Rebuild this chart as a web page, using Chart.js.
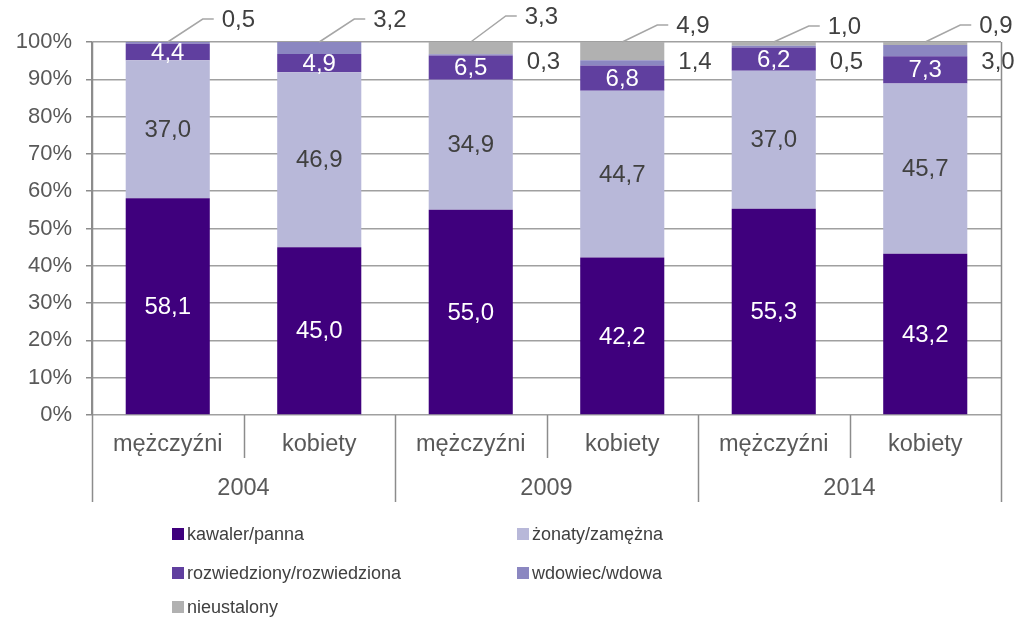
<!DOCTYPE html>
<html lang="pl">
<head>
<meta charset="utf-8">
<title>Stan cywilny</title>
<script src="https://cdn.jsdelivr.net/npm/chart.js@4/dist/chart.umd.min.js"></script>
<style>
  html, body { margin: 0; padding: 0; background: #fff; }
  #wrap { width: 1019px; height: 621px; }
</style>
</head>
<body>
<div id="wrap"><canvas id="stanChart" width="1019" height="621"></canvas></div>
<script>
// Stan cywilny wg płci, lata 2004, 2009, 2014 (%)
const years = ['2004', '2009', '2014'];
const categories = ['mężczyźni', 'kobiety', 'mężczyźni', 'kobiety', 'mężczyźni', 'kobiety'];
const seriesNames = ['kawaler/panna', 'żonaty/zamężna', 'rozwiedziony/rozwiedziona', 'wdowiec/wdowa', 'nieustalony'];

const kawalerPanna = [58.1, 45.0, 55.0, 42.2, 55.3, 43.2];
const zonatyZamezna = [37.0, 46.9, 34.9, 44.7, 37.0, 45.7];
const rozwiedzeni = [4.4, 4.9, 6.5, 6.8, 6.2, 7.3];
const wdowcy = [0.5, 3.2, 0.3, 1.4, 0.5, 3.0];
const nieustalony = [0, 0, 3.3, 4.9, 1.0, 0.9];

const colors = ['#3f007d', '#b8b8d9', '#603f9f', '#8b87c1', '#b1b1b1'];
const FONT = '"Liberation Sans", Arial, sans-serif';
const TEXT = '#595959';
const DARK = '#404040';
const LINE = '#8c8c8c';

const fmt = v => v.toFixed(1).replace('.', ',');

// Labels on the segments: inside, beside the bar, or on a leader line above it
const valueLabels = {
  id: 'valueLabels',
  afterDatasetsDraw(chart, args, opts) {
    const { ctx, chartArea: a, scales: { y } } = chart;
    ctx.save();
    ctx.font = '24px ' + FONT;
    ctx.textBaseline = 'middle';
    chart.data.datasets.forEach((ds, di) => {
      const meta = chart.getDatasetMeta(di);
      meta.data.forEach((bar, i) => {
        const v = ds.data[i];
        if (!v) return;
        const text = fmt(v);
        if (di < 3) {
          ctx.fillStyle = di === 1 ? DARK : '#ffffff';
          ctx.textAlign = 'center';
          ctx.fillText(text, bar.x, (bar.y + bar.base) / 2 + 1);
          return;
        }
        const isTop = di === 4 || !nieustalony[i];
        ctx.fillStyle = DARK;
        ctx.textAlign = 'left';
        if (isTop) {
          const x0 = bar.x;
          const y0 = Math.max(bar.y, a.top);
          const y1 = y0 - opts.rise[i];
          ctx.strokeStyle = '#a6a6a6';
          ctx.lineWidth = 1.5;
          ctx.beginPath();
          ctx.moveTo(x0, y0);
          ctx.lineTo(x0 + 35, y1);
          ctx.lineTo(x0 + 46, y1);
          ctx.stroke();
          ctx.fillText(text, x0 + 54, y1 + 1);
        } else {
          ctx.fillText(text, bar.x + bar.width / 2 + 14, y.getPixelForValue(94.6));
        }
      });
    });
    ctx.restore();
  }
};

// Two-level category axis: sex under each bar, year under each pair
const groupAxis = {
  id: 'groupAxis',
  afterDraw(chart) {
    const { ctx, chartArea: a, scales: { x } } = chart;
    const step = (a.right - a.left) / categories.length;
    ctx.save();
    ctx.strokeStyle = LINE;
    ctx.lineWidth = 1.5;
    for (let k = 0; k <= categories.length; k++) {
      const px = Math.round(a.left + k * step) + 0.5;
      ctx.beginPath();
      ctx.moveTo(px, k === 0 || k === categories.length ? a.top : a.bottom);
      ctx.lineTo(px, k % 2 ? a.bottom + 43 : a.bottom + 87);
      ctx.stroke();
    }
    ctx.fillStyle = TEXT;
    ctx.textAlign = 'center';
    ctx.textBaseline = 'middle';
    ctx.font = '23.5px ' + FONT;
    categories.forEach((c, i) => ctx.fillText(c, x.getPixelForValue(i), a.bottom + 30));
    years.forEach((yr, g) => {
      const cx = (x.getPixelForValue(2 * g) + x.getPixelForValue(2 * g + 1)) / 2;
      ctx.fillText(yr, cx, a.bottom + 74);
    });
    ctx.restore();
  }
};

// Legend in two columns under the axis
const gridLegend = {
  id: 'gridLegend',
  afterDraw(chart) {
    const ctx = chart.ctx;
    const cols = [172, 517];
    const rows = [534, 573, 607];
    ctx.save();
    ctx.font = '18px ' + FONT;
    ctx.textBaseline = 'middle';
    ctx.textAlign = 'left';
    chart.data.datasets.forEach((ds, i) => {
      const lx = cols[i % 2];
      const ly = rows[Math.floor(i / 2)];
      ctx.fillStyle = ds.backgroundColor;
      ctx.fillRect(lx, ly - 6, 12, 12);
      ctx.fillStyle = DARK;
      ctx.fillText(ds.label, lx + 15, ly + 1);
    });
    ctx.restore();
  }
};

const seriesData = [kawalerPanna, zonatyZamezna, rozwiedzeni, wdowcy, nieustalony];

new Chart(document.getElementById('stanChart').getContext('2d'), {
  type: 'bar',
  data: {
    labels: categories,
    datasets: seriesNames.map((name, i) => ({
      label: name,
      data: seriesData[i],
      backgroundColor: colors[i],
      borderWidth: 0,
      categoryPercentage: 1,
      barPercentage: 0.555
    }))
  },
  options: {
    responsive: false,
    animation: false,
    layout: { padding: { left: 0, top: 42, right: 18, bottom: 206 } },
    plugins: {
      legend: { display: false },
      tooltip: { enabled: false },
      valueLabels: { rise: [23, 23, 26, 17, 16, 17] }
    },
    scales: {
      x: { stacked: true, display: false },
      y: {
        stacked: true,
        min: 0,
        max: 100,
        afterFit(scale) { scale.width = 92; },
        ticks: {
          stepSize: 10,
          padding: 14,
          color: TEXT,
          font: { family: FONT, size: 22 },
          callback: v => v + '%'
        },
        grid: { color: '#a0a0a0', lineWidth: 1.5, tickLength: 6, tickColor: LINE },
        border: { color: LINE, width: 1.5 }
      }
    }
  },
  plugins: [valueLabels, groupAxis, gridLegend]
});
</script>
</body>
</html>
